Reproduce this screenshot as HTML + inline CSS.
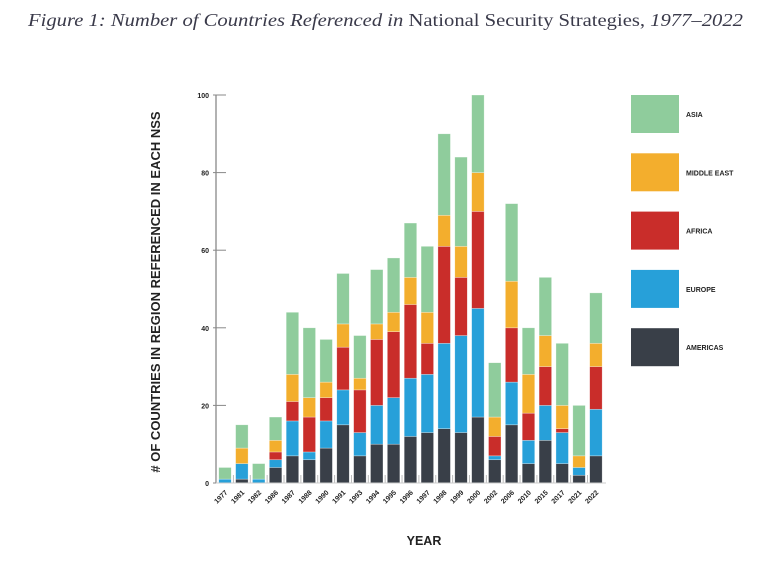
<!DOCTYPE html>
<html><head><meta charset="utf-8"><style>
body{margin:0;background:#fff;width:779px;height:569px;overflow:hidden;font-family:"Liberation Sans",sans-serif}
svg text{font-family:"Liberation Sans",sans-serif}
</style></head><body>
<svg id="c" width="779" height="569">
<text x="28" y="26" font-size="18" fill="#3a3a4a" textLength="715" lengthAdjust="spacingAndGlyphs" style="font-family:'Liberation Serif',serif"><tspan font-style="italic">Figure 1: Number of Countries Referenced in</tspan> National Security Strategies, <tspan font-style="italic">1977–2022</tspan></text>
<text transform="translate(160,292) rotate(-90)" text-anchor="middle" font-size="13" font-weight="bold" fill="#222"># OF COUNTRIES IN REGION REFERENCED IN EACH NSS</text>
<text x="424" y="545" text-anchor="middle" font-size="12.5" font-weight="bold" fill="#222">YEAR</text>
<g id="g"></g>
</svg>
<script>
const years=["1977","1981","1982","1986","1987","1988","1990","1991","1993","1994","1995","1996","1997","1998","1999","2000","2002","2006","2010","2015","2017","2021","2022"];
const americas=[0,1,0,4,7,6,9,15,7,10,10,12,13,14,13,17,6,15,5,11,5,2,7];
const europe=[1,4,1,2,9,2,7,9,6,10,12,15,15,22,25,28,1,11,6,9,8,2,12];
const africa=[0,0,0,2,5,9,6,11,11,17,17,19,8,25,15,25,5,14,7,10,1,0,11];
const middleEast=[0,4,0,3,7,5,4,6,3,4,5,7,8,8,8,10,5,12,10,8,6,3,6];
const asia=[3,6,4,6,16,18,11,13,11,14,14,14,17,21,23,20,14,20,12,15,16,13,13];
const yTicks=[0,20,40,60,80,100];
const series=[["americas",americas,"#393f48","AMERICAS"],["europe",europe,"#27a0d9","EUROPE"],["africa",africa,"#c92d2a","AFRICA"],["middle-east",middleEast,"#f3ae2d","MIDDLE EAST"],["asia",asia,"#8fcc9c","ASIA"]];
const NS="http://www.w3.org/2000/svg",g=document.getElementById("g");
const y0=483,y1=95,x0=225,step=16.86,bw=12.5;
const ys=v=>y0-(v/100)*(y0-y1);
const xs=i=>x0+i*step;
function mk(t,a){const e=document.createElementNS(NS,t);for(const k in a)e.setAttribute(k,a[k]);g.appendChild(e);return e;}
let ax=mk("line",{x1:216,y1:y1,x2:216,y2:y0,stroke:"#999","stroke-width":1.5});


yTicks.forEach(t=>{
 let l=mk("line",{x1:213,x2:226,y1:ys(t),y2:ys(t),stroke:"#888","stroke-width":1});
 
 
 let tx=mk("text",{x:209,y:ys(t)+3,"text-anchor":"end","font-size":7,"font-weight":"bold",fill:"#222"});
 tx.textContent=t;
 
 
});
years.forEach((yr,i)=>{
 let cum=0;
 series.forEach(s=>{
  const v=s[1][i];if(v<=0)return;
  let r=mk("rect",{x:xs(i)-bw/2,y:ys(cum+v),width:bw,height:ys(cum)-ys(cum+v),fill:s[2],stroke:"#fff","stroke-opacity":0.5,"stroke-width":0.6});
  
  
  cum+=v;
 });
 let tk=mk("line",{x1:xs(i)-step/2,x2:xs(i)-step/2,y1:y0-8,y2:y0,stroke:"#bbb","stroke-width":1});
 
 
 let tx=mk("text",{transform:`translate(${xs(i)+3},${y0+10}) rotate(-45)`,"text-anchor":"end","font-size":7,"font-weight":"bold",fill:"#222"});
 tx.textContent=yr;
 
 
});
let bl=mk("line",{x1:216,x2:606,y1:y0,y2:y0,stroke:"#ccc","stroke-width":1});


series.slice().reverse().forEach((s,j)=>{
 const ty=95+j*58.3;
 let r=mk("rect",{x:631,y:ty,width:48,height:38,fill:s[2]});
 
 
 let t=mk("text",{x:686,y:ty+22,"font-size":7,"font-weight":"bold",fill:"#222"});
 t.textContent=s[3];
 
 
});
</script>
</body></html>
